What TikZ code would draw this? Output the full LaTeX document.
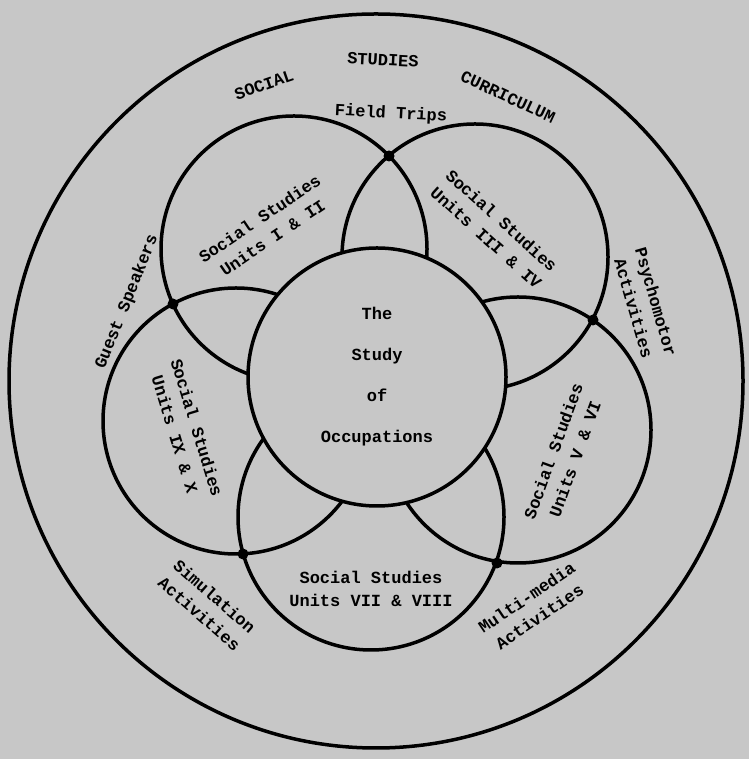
\documentclass[tikz,border=0pt]{standalone}
\usepackage{fontspec}
\setmonofont{Liberation Mono}
\usetikzlibrary{calc, positioning}

\begin{document}
\begin{tikzpicture}[x=1pt, y=1pt,
      ring/.style={draw, line width=3.5pt, circle, inner sep=0pt},
      unitring/.style={ring, minimum size=266pt},
      lbl/.style={font=\ttfamily\bfseries\fontsize{17}{23}\selectfont, align=center, inner sep=1pt}]
   % Paper
   \fill[black!22] (0,0) rectangle (749,759);
   \useasboundingbox (0,0) rectangle (749,759);
   % Curriculum circle
   \node[ring, minimum size=734pt] (curriculum) at (376,378) {};
   % Unit circles
   \node[unitring] (units12) at (294,510) {};
   \node[unitring] (units34) at (475,502) {};
   \node[unitring] (units56) at (518,329) {};
   \node[unitring] (units78) at (371,242) {};
   \node[unitring] (units910) at (236,338) {};
   % Junctions of the unit circles
   \foreach \p in {(389,603), (173,455), (593,439), (497,196), (243,205)}
      \fill \p circle (5.5pt);
   % Centre circle
   \node[ring, fill=black!22, minimum size=258pt] (study) at (377,382) {};
   \node[lbl, font=\ttfamily\bfseries\fontsize{17}{19}\selectfont] (studytxt) at (study)
      {The\\[22pt] Study\\[22pt] of\\[22pt] Occupations};
   % Curriculum title
   \node[lbl, rotate=19] (social) at (264,674) {SOCIAL};
   \node[lbl, rotate=-3] (studies) at (383,699) {STUDIES};
   \node[lbl, rotate=-25] (curric) at (508,662) {CURRICULUM};
   % Unit labels
   \node[lbl, rotate=34] (units12txt) at (266,531) {Social Studies\\Units I \& II};
   \node[lbl, rotate=-42] (units34txt) at (494,530) {Social Studies\\Units III \& IV};
   \node[lbl, rotate=70] (units56txt) at (564,304) {Social Studies\\Units V \& VI};
   \node[lbl] (units78txt) at (371,170) {Social Studies\\Units VII \& VIII};
   \node[lbl, rotate=-73] (units910txt) at (186,328) {Social Studies\\Units IX \& X};
   % Activities
   \node[lbl, rotate=-3] (field) at (391,645) {Field Trips};
   \node[lbl, rotate=68] (guest) at (127,457) {Guest Speakers};
   \node[lbl, rotate=-74] (psycho) at (645,454) {Psychomotor\\Activities};
   \node[lbl, rotate=-41] (simul) at (207,154) {Simulation\\Activities};
   \node[lbl, rotate=34] (multi) at (533,152) {Multi-media\\Activities};
\end{tikzpicture}
\end{document}
